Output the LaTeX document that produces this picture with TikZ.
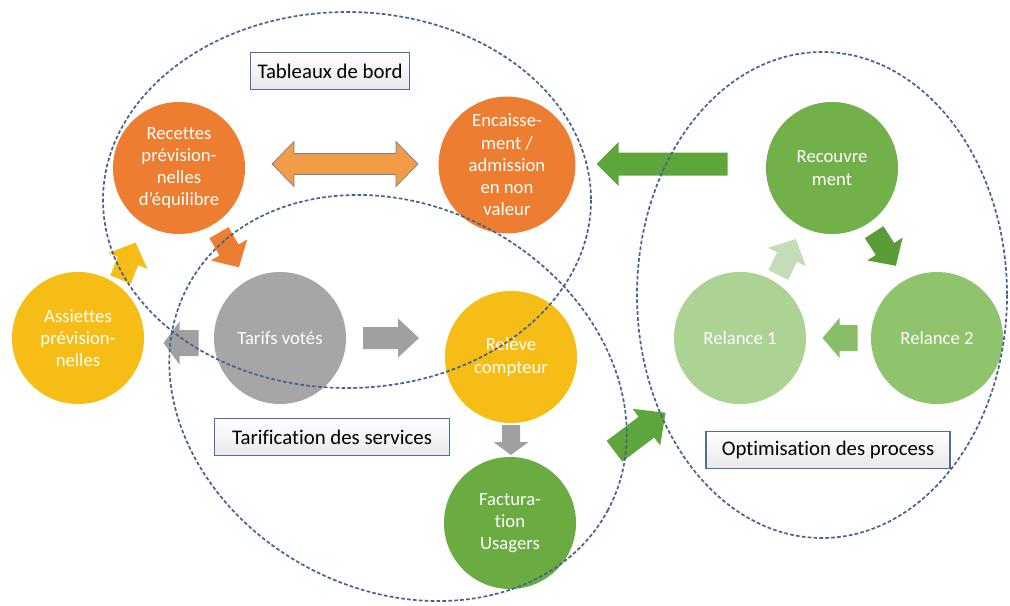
\documentclass[tikz,border=0pt]{standalone}
\usepackage{fontspec}
\setmainfont{Carlito}[Ligatures=CommonOff]
\usetikzlibrary{calc}
\definecolor{orgC}{RGB}{237,125,49}
\definecolor{orgA}{RGB}{243,156,72}
\definecolor{yelC}{RGB}{246,189,22}
\definecolor{gryC}{RGB}{166,166,166}
\definecolor{gryA}{RGB}{160,160,160}
\definecolor{grnF}{RGB}{106,172,66}
\definecolor{grnR}{RGB}{114,176,74}
\definecolor{grnRb}{RGB}{143,195,108}
\definecolor{grnRa}{RGB}{172,210,148}
\definecolor{grnA}{RGB}{94,166,60}
\definecolor{grnD}{RGB}{90,156,56}
\definecolor{grnM}{RGB}{136,190,104}
\definecolor{grnL}{RGB}{196,220,183}
\definecolor{dashC}{RGB}{68,98,138}
\definecolor{boxB}{RGB}{74,110,160}
\definecolor{arrO}{RGB}{110,128,155}
\tikzset{
  proc/.style={circle, fill=#1, minimum size=3.3cm, inner sep=0pt, text=white, align=center, font=\fontsize{13.3}{15.8}\selectfont},
  lbl/.style={draw=boxB, line width=1pt, top color=white, bottom color=black!9, text=black, font=\fontsize{14.8}{17}\selectfont, minimum height=0.925cm, inner sep=0pt},
  grp/.style={draw=dashC, line width=1.2pt, dash pattern=on 2.6pt off 1.6pt},
  pics/barrow/.style args={#1/#2/#3/#4}{code={
    \path[pic actions] ({-#1/2},{-#2/2}) -- ({#1/2-#4},{-#2/2}) -- ({#1/2-#4},{-#3/2}) -- ({#1/2},0) -- ({#1/2-#4},{#3/2}) -- ({#1/2-#4},{#2/2}) -- ({-#1/2},{#2/2}) -- cycle;
  }},
  pics/darrow/.style args={#1/#2/#3/#4}{code={
    \path[pic actions] ({-#1/2},0) -- ({-#1/2+#4},{-#3/2}) -- ({-#1/2+#4},{-#2/2}) -- ({#1/2-#4},{-#2/2}) -- ({#1/2-#4},{-#3/2}) -- ({#1/2},0) -- ({#1/2-#4},{#3/2}) -- ({#1/2-#4},{#2/2}) -- ({-#1/2+#4},{#2/2}) -- ({-#1/2+#4},{#3/2}) -- cycle;
  }}
}
\begin{document}
\begin{tikzpicture}[x=0.025cm,y=-0.025cm]
\useasboundingbox[fill=white] (0,0) rectangle (1010,605);
% process circles
\node[proc=orgC] (recettes) at (179,168) {Recettes\\prévision-\\nelles\\d’équilibre};
\node[proc=orgC, minimum size=3.42cm] (encaiss) at (507,165) {Encaisse-\\ment /\\admission\\en non\\valeur};
\node[proc=yelC] (assiettes) at (78,338) {Assiettes\\prévision-\\nelles};
\node[proc=gryC] (tarifs) at (280,338) {Tarifs votés};
\node[proc=yelC] (releve) at (511,357) {Relève\\compteur};
\node[proc=grnF] (factu) at (510,523) {Factura-\\tion\\Usagers};
\node[proc=grnR] (recouv) at (832,168) {Recouvre\\ment};
\node[proc=grnRa] (relA) at (740,338) {Relance 1};
\node[proc=grnRb] (relB) at (937,338) {Relance 2};
% block arrows
\pic[fill=orgA, draw=arrO, line width=0.5pt] (dbl) at (345,164) {darrow=146/21/45/22};
\pic[rotate=180, fill=grnA] (gleft) at (662,164) {barrow=131/23/44/22};
\pic[rotate=-60, fill=orgC] (osm) at (229,250) {barrow=40/22/42/20};
\pic[rotate=68, fill=yelC] (ysm) at (128,261) {barrow=40/22/42/20};
\pic[rotate=180, fill=gryA] (gyl) at (181,343) {barrow=35/26/43/16};
\pic[fill=gryA] (gyr) at (391,338) {barrow=56/22/39/21};
\pic[rotate=-90, fill=gryA] (gyd) at (511,440) {barrow=30/18/35/13};
\pic[rotate=37, fill=grnA] (gur) at (640,432) {barrow=64/26/46/24};
\pic[rotate=-57, fill=grnD] (gcA) at (885,249) {barrow=40/22/42/20};
\pic[rotate=64, fill=grnL] (gcB) at (787,257) {barrow=40/22/42/20};
\pic[rotate=180, fill=grnM] (gcC) at (840,338) {barrow=35/26/40/17};
% grouping ellipses
\draw[grp] (347,200) ellipse [x radius=244, y radius=188];
\draw[grp, rotate around={-28:(398,398)}] (398,398) ellipse [x radius=238, y radius=192];
\draw[grp] (822,295) ellipse [x radius=185, y radius=243];
% labels
\node[lbl, minimum width=3.975cm] (tab) at (330,71) {Tableaux de bord};
\node[lbl, minimum width=5.875cm] (tarif) at (332,437) {Tarification des services};
\node[lbl, minimum width=6.1cm] (optim) at (828,450) {Optimisation des process};
\end{tikzpicture}
\end{document}
